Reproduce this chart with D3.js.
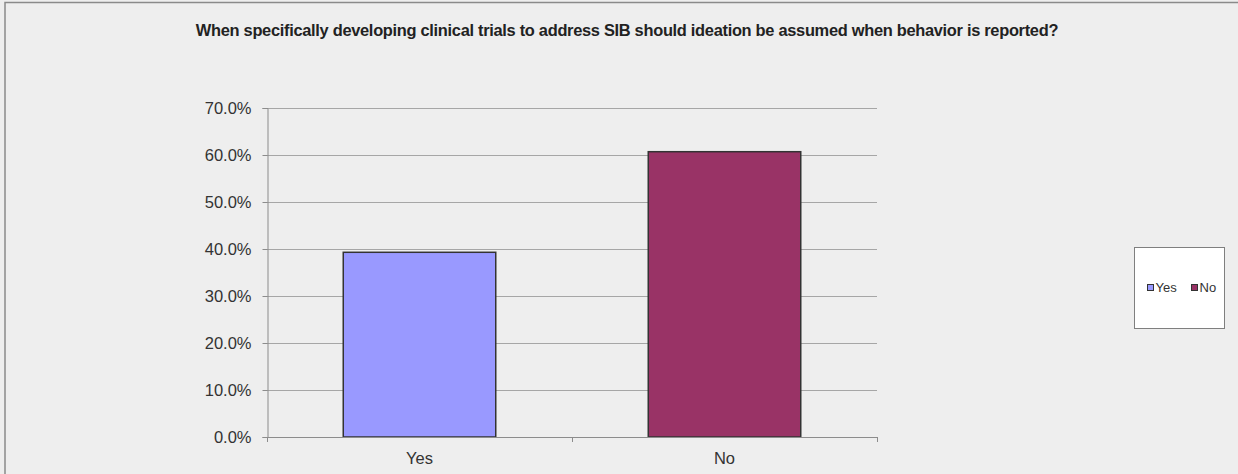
<!DOCTYPE html>
<html>
<head>
<meta charset="utf-8">
<script src="https://cdn.jsdelivr.net/npm/d3@7"></script>
<style>
  html, body { margin: 0; padding: 0; background: #eeeeee; }
  svg { display: block; font-family: "Liberation Sans", Arial, sans-serif; }
</style>
</head>
<body>
<svg id="chart" width="1238" height="474"></svg>
<script>
// Survey answers
const categories = ["Yes", "No"];
const values = [0.393, 0.607];
const colors = ["#9999ff", "#993366"];
const yTicks = [0, 0.1, 0.2, 0.3, 0.4, 0.5, 0.6, 0.7];
const title = "When specifically developing clinical trials to address SIB should ideation be assumed when behavior is reported?";

const svg = d3.select("#chart");
const W = 1238, H = 474;

// outer chart frame
svg.append("rect")
  .attr("x", 5).attr("y", 2.5)
  .attr("width", W + 10).attr("height", H + 10)
  .attr("fill", "#eeeeee")
  .attr("stroke", "#8a8a8a").attr("stroke-width", 1.5);

const plot = { left: 267, right: 877, top: 108, bottom: 437 };

const x = d3.scaleBand()
  .domain(categories)
  .range([plot.left, plot.right])
  .paddingInner(0.5).paddingOuter(0.25);

const y = d3.scaleLinear().domain([0, 0.7]).range([plot.bottom, plot.top]);

// gridlines
svg.append("g")
  .selectAll("line")
  .data(yTicks.filter(t => t > 0))
  .join("line")
  .attr("x1", plot.left).attr("x2", plot.right)
  .attr("y1", d => Math.round(y(d)) + 0.5).attr("y2", d => Math.round(y(d)) + 0.5)
  .attr("stroke", "#a6a6a6").attr("stroke-width", 1);

// bars
svg.append("g")
  .selectAll("rect")
  .data(categories)
  .join("rect")
  .attr("x", d => x(d))
  .attr("y", (d, i) => y(values[i]))
  .attr("width", x.bandwidth())
  .attr("height", (d, i) => plot.bottom - y(values[i]))
  .attr("fill", (d, i) => colors[i])
  .attr("stroke", "#333333").attr("stroke-width", 1.5);

// y axis
const yAxis = svg.append("g")
  .attr("transform", `translate(${plot.left + 0.5},0)`)
  .call(d3.axisLeft(y).tickValues(yTicks).tickFormat(d3.format(".1%")).tickSize(5).tickPadding(11));
yAxis.select(".domain").attr("stroke", "#8c8c8c");
yAxis.selectAll(".tick line").attr("stroke", "#8c8c8c");
yAxis.selectAll(".tick text")
  .attr("font-family", "Liberation Sans, Arial, sans-serif")
  .attr("font-size", 16.5).attr("fill", "#333333");

// x axis, ticks on category boundaries
const boundaries = [plot.left, (plot.left + plot.right) / 2, plot.right];
const xAxisG = svg.append("g");
xAxisG.append("line")
  .attr("x1", plot.left).attr("x2", plot.right)
  .attr("y1", plot.bottom + 0.5).attr("y2", plot.bottom + 0.5)
  .attr("stroke", "#8c8c8c");
xAxisG.selectAll("line.tk")
  .data(boundaries)
  .join("line").attr("class", "tk")
  .attr("x1", d => Math.round(d) + 0.5).attr("x2", d => Math.round(d) + 0.5)
  .attr("y1", plot.bottom).attr("y2", plot.bottom + 5)
  .attr("stroke", "#8c8c8c");
xAxisG.selectAll("text")
  .data(categories)
  .join("text")
  .attr("x", d => x(d) + x.bandwidth() / 2)
  .attr("y", 464)
  .attr("text-anchor", "middle")
  .attr("font-size", 16.5).attr("fill", "#333333")
  .text(d => d);

// title
const t = svg.append("text")
  .attr("x", 627).attr("y", 36)
  .attr("text-anchor", "middle")
  .attr("font-weight", "bold")
  .attr("font-size", 14)
  .attr("fill", "#222222")
  .attr("letter-spacing", -0.3)
  .text(title);
const tw = t.node().getComputedTextLength();
t.attr("font-size", 14 * 857 / tw);

// legend
const lg = svg.append("g");
lg.append("rect")
  .attr("x", 1134.5).attr("y", 247.5)
  .attr("width", 90).attr("height", 81)
  .attr("fill", "#ffffff").attr("stroke", "#7f7f7f").attr("stroke-width", 1);
const legendX = [1147.5, 1191.5];
categories.forEach((c, i) => {
  lg.append("rect")
    .attr("x", legendX[i]).attr("y", 284.5)
    .attr("width", 6).attr("height", 6)
    .attr("fill", colors[i]).attr("stroke", "#333333").attr("stroke-width", 1);
  lg.append("text")
    .attr("x", legendX[i] + 8).attr("y", 292)
    .attr("font-size", 13).attr("fill", "#333333")
    .text(c);
});
</script>
</body>
</html>
